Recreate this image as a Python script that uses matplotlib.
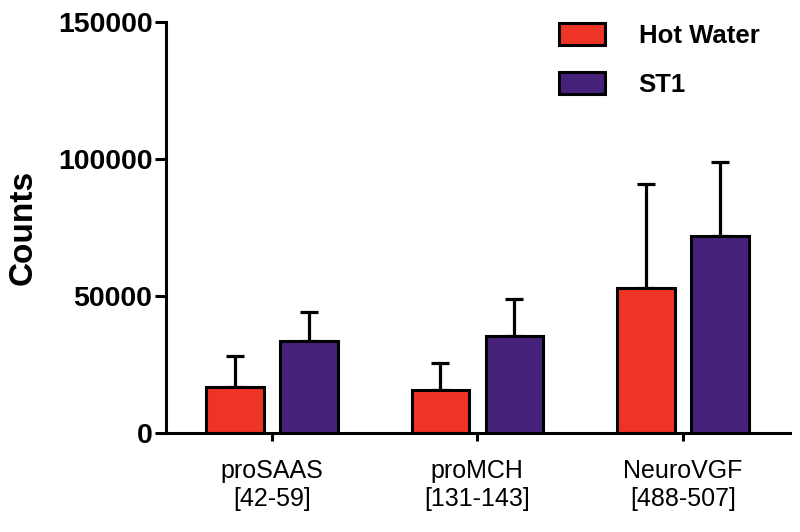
import matplotlib
matplotlib.use("Agg")
import matplotlib.pyplot as plt
import numpy as np

categories = ["proSAAS\n[42-59]", "proMCH\n[131-143]", "NeuroVGF\n[488-507]"]
hot_water = [16800, 15500, 52600]
hot_water_err = [11200, 9800, 38000]
st1 = [33500, 35300, 71900]
st1_err = [10400, 13600, 26800]

plt.rcParams['font.family'] = ['Liberation Sans', 'DejaVu Sans']

fig = plt.figure(figsize=(8, 5.32), dpi=100)
ax = fig.add_axes([0.208, 0.187, 0.78, 0.772])

x = np.arange(len(categories))
w = 0.28
off = 0.18
red = '#EE3424'
purple = '#46217A'
ekw = dict(elinewidth=2.3, capthick=2.3, capsize=6.5, ecolor='black', zorder=1)

ax.bar(x - off, hot_water, w, color=red, edgecolor='black', linewidth=2.2,
       yerr=[np.zeros(len(x)), hot_water_err], error_kw=ekw, label='Hot Water', zorder=2)
ax.bar(x + off, st1, w, color=purple, edgecolor='black', linewidth=2.2,
       yerr=[np.zeros(len(x)), st1_err], error_kw=ekw, label='ST1', zorder=2)

ax.set_xlim(-0.513, 2.523)
ax.set_ylim(0, 150000)
ax.set_yticks([0, 50000, 100000, 150000])
ax.set_yticklabels(['0', '50000', '100000', '150000'], fontsize=20.5, fontweight='bold')
ax.set_xticks(x)
ax.set_xticklabels(categories, fontsize=18)
ax.set_ylabel('Counts', fontsize=24, fontweight='bold', labelpad=14)

for s in ['top', 'right']:
    ax.spines[s].set_visible(False)
for s in ['left', 'bottom']:
    ax.spines[s].set_linewidth(2.2)
ax.tick_params(axis='y', length=8, width=2.2, pad=2)
ax.tick_params(axis='x', length=6, width=2.2, pad=13)

leg = ax.legend(loc='upper left', bbox_to_anchor=(0.629, 0.998), frameon=False,
                prop={'size': 18.5, 'weight': 'bold'}, handlelength=1.8, handleheight=0.95,
                labelspacing=0.95, handletextpad=1.3, borderpad=0, borderaxespad=0)
for p in leg.get_patches():
    p.set_linewidth(2.2)

fig.savefig('out.png', dpi=100)
